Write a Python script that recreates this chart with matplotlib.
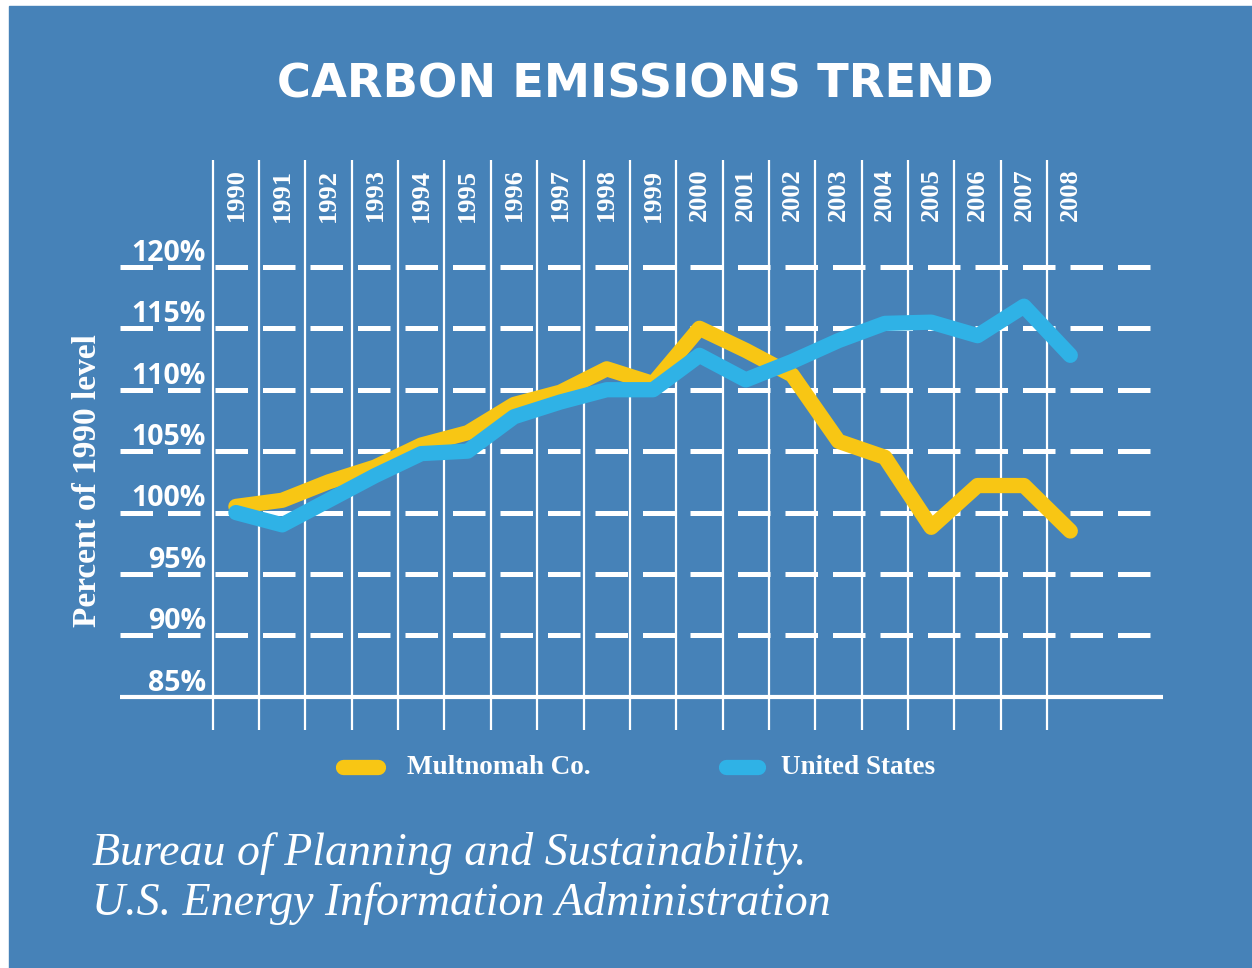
import matplotlib.pyplot as plt
from matplotlib.lines import Line2D
from matplotlib.patches import Rectangle

# data (percent of 1990 level)
years = list(range(1990, 2009))
multnomah = [100.5, 101.0, 102.5, 103.7, 105.5, 106.5, 108.8, 109.8, 111.7, 110.5,
             115.0, 113.2, 111.2, 105.8, 104.5, 98.8, 102.2, 102.2, 98.5]
united_states = [100.0, 99.0, 101.0, 103.0, 104.8, 105.0, 107.8, 109.0, 110.0, 110.0,
                 112.8, 110.8, 112.3, 114.0, 115.4, 115.5, 114.4, 116.8, 112.8]
pct_levels = [85, 90, 95, 100, 105, 110, 115, 120]
pct_labels = ['85%', '90%', '95%', '100%', '105%', '110%', '115%', '120%']
series_names = ['Multnomah Co.', 'United States']
title = 'CARBON EMISSIONS TREND'
ylabel = 'Percent of 1990 level'
source_lines = ['Bureau of Planning and Sustainability.',
                'U.S. Energy Information Administration']

bg = '#4682b8'
yellow = '#f8c614'
blue = '#2fb2e6'
W, H = 1252, 968


def fx(px):
    return px / W


def fy(py):
    return 1 - py / H


fig = plt.figure(figsize=(W / 100, H / 100), dpi=100, facecolor='white')
fig.add_artist(Rectangle((fx(9), 0), 1, fy(6), transform=fig.transFigure,
                         color=bg, zorder=-10))

ax = fig.add_axes([fx(120), fy(730), fx(1043), 570 / H])
ax.set_facecolor('none')
ax.axis('off')
ax.set_xlim(1987.5, 2010.0)
ax.set_ylim(82.3, 128.7)

# vertical year dividers
for yr in years:
    ax.axvline(yr - 0.5, color='white', lw=1.6, zorder=1)

# dashed percent lines, solid base line
for lvl, lab in zip(pct_levels, pct_labels):
    if lvl == pct_levels[0]:
        ax.axhline(lvl, color='white', lw=3, zorder=1)
    else:
        ax.axhline(lvl, color='white', lw=3.6, dashes=(6.5, 3), zorder=1)
    ax.text(1989.35, lvl + 0.5, lab, ha='right', va='baseline', color='white',
            family='Open Sans', fontweight='bold', fontsize=20.5, zorder=2)

# year labels
for yr in years:
    ax.text(yr, 128.0, str(yr), rotation=90, ha='center', va='top', color='white',
            family='Liberation Serif', fontweight='bold', fontsize=19)

ax.plot(years, multnomah, color=yellow, lw=11, solid_joinstyle='round',
        solid_capstyle='round', zorder=3)
ax.plot(years, united_states, color=blue, lw=11, solid_joinstyle='round',
        solid_capstyle='round', zorder=4)

fig.text(fx(635), fy(85), title, ha='center', va='center', color='white',
         family='DejaVu Sans', fontweight='bold', fontsize=33.4)
fig.text(fx(88), fy(481), ylabel, rotation=90, ha='center', va='center',
         color='white', family='Liberation Serif', fontweight='bold', fontsize=24)

# legend
for (x0, x1, tx), col, name in zip([(343, 378, 407), (726, 758, 781)],
                                   [yellow, blue], series_names):
    fig.add_artist(Line2D([fx(x0), fx(x1)], [fy(767), fy(767)], color=col, lw=11,
                          solid_capstyle='round', transform=fig.transFigure))
    fig.text(fx(tx), fy(767), name, ha='left', va='center', color='white',
             family='Liberation Serif', fontweight='bold', fontsize=19.5)

# source text
for i, line in enumerate(source_lines):
    fig.text(fx(92), fy(865 + 50 * i), line, ha='left', va='baseline',
             color='white', family='Liberation Serif', style='italic', fontsize=33)

fig.savefig('out.png', dpi=100, facecolor=fig.get_facecolor())
